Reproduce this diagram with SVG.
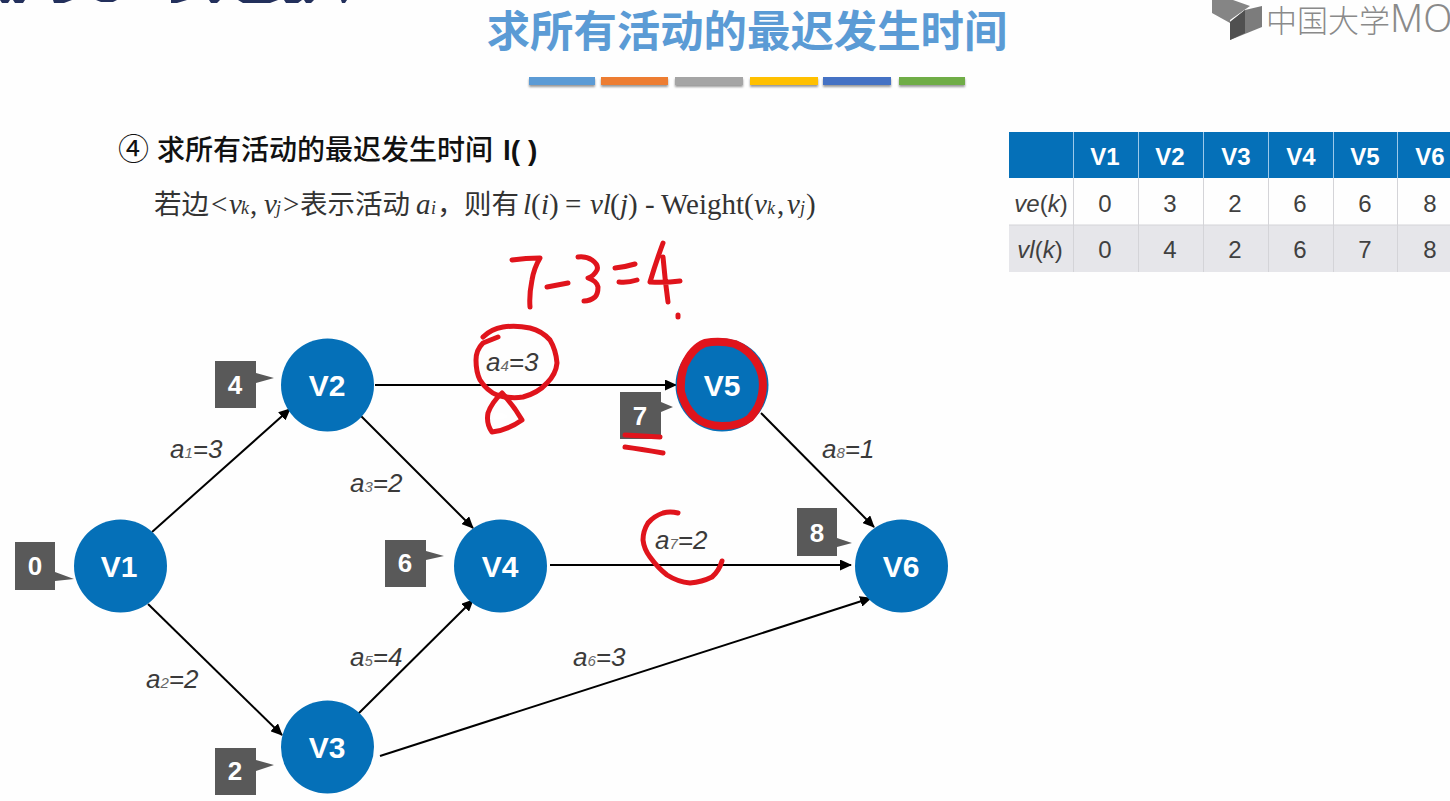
<svg xmlns="http://www.w3.org/2000/svg" width="1450" height="801" viewBox="0 0 1450 801">
<defs>
<marker id="ah" markerWidth="12" markerHeight="11" refX="11" refY="5.500" orient="auto" markerUnits="userSpaceOnUse"><path d="M0 0L12 5.500L0 11Z" fill="#000"/></marker>
<filter id="sh" x="-5%" y="-50%" width="110%" height="250%"><feDropShadow dx="0" dy="2" stdDeviation="1.2" flood-color="#000" flood-opacity=".4"/></filter>
</defs>
<style>
text{font-family:"Liberation Sans","Noto Sans CJK SC",sans-serif}
.c{fill:#0570b8}
.n{fill:#fff;font-size:30px;font-weight:700;text-anchor:middle}
.tag{fill:#595959}
.t{fill:#fff;font-size:26px;font-weight:700;text-anchor:middle}
.e{stroke:#000;stroke-width:2;fill:none;marker-end:url(#ah)}
.l{font-size:26px;font-style:italic;fill:#3a3a3a}
.l tspan{font-size:15px;fill:#666}
.ink{fill:none;stroke:#e0141c;stroke-width:5;stroke-linecap:round;stroke-linejoin:round}
.h{fill:#0570b8}
.hd{fill:#fff;font-size:24px;font-weight:700;text-anchor:middle}
.d{fill:#404040;font-size:24px;text-anchor:middle}
.ti{font-size:24px;fill:#404040;text-anchor:middle}
.ti tspan{font-style:italic}
.sep{stroke:#9cc9ea;stroke-width:1}
.sep2{stroke:#d4d4d8;stroke-width:1}
.f{font-family:"Liberation Serif",serif;font-size:29px;fill:#333}
.f .i{font-style:italic}
.f .s{font-size:18px;font-style:italic}
.f .z{font-family:"Noto Sans CJK SC",sans-serif;font-size:27.500px;font-style:normal}
.top{fill:#23305c}
</style>
<rect width="1450" height="801" fill="#fefefe"/>
<g id="title">
<text x="747" y="47" font-size="43.400" fill="#5b9bd5" text-anchor="middle" style="font-family:'Noto Sans CJK SC',sans-serif;font-weight:700">求所有活动的最迟发生时间</text>
<g filter="url(#sh)">
<rect x="529" y="77" width="66" height="8" fill="#5b9bd5"/>
<rect x="601" y="77" width="67" height="8" fill="#ed7d31"/>
<rect x="675" y="77" width="68" height="8" fill="#a5a5a5"/>
<rect x="750" y="77" width="68" height="8" fill="#ffc000"/>
<rect x="823" y="77" width="68" height="8" fill="#4472c4"/>
<rect x="899" y="77" width="66" height="8" fill="#70ad47"/>
</g>
</g>
<g id="top-scribble">
<path class="top" d="M0 0h10l-2 3h-6ZM13 0h12l-2 3h-8ZM53 0h19l-8 3h-10ZM96 0h21l-4 2h-12ZM171 0h16l-10 3h-6ZM209 0h11l-3 3h-6ZM238 0h40l-8 3h-27ZM284 0h18l-4 3h-12ZM304 0h10l-3 3h-5ZM341 0h6l-2 3h-3Z"/>
</g>
<g id="logo">
<path d="M1212 0H1233L1250 6L1230 20V23L1212 13Z" fill="#858585"/>
<path d="M1230 22L1245 10L1262 6V27L1230 40Z" fill="#7c7c7c"/>
<path d="M1230 22L1245 10V33L1230 40Z" fill="#505050"/>
<text x="1266" y="32" font-size="31" fill="#8a8a8a" style="font-family:'Noto Sans CJK SC',sans-serif;font-weight:300">中国大学<tspan font-size="38" style="font-family:'Noto Sans',sans-serif;font-weight:300">MOOC</tspan></text>
</g>
<g id="heading">
<text x="118" y="160" font-size="31" fill="#111" style="font-family:'Noto Sans CJK SC',sans-serif">④</text>
<text x="157" y="160" font-size="28" fill="#111" style="font-family:'Noto Sans CJK SC',sans-serif;font-weight:500">求所有活动的最迟发生时间</text>
<text x="503" y="160" font-size="28" font-weight="700" fill="#111">l( )</text>
<text class="f" y="214"><tspan class="z" x="154">若边</tspan><tspan x="211">&lt;</tspan><tspan class="i" x="229">v</tspan><tspan class="s" x="241">k</tspan><tspan x="250">,</tspan><tspan class="i" x="264">v</tspan><tspan class="s" x="276">j</tspan><tspan x="283">&gt;</tspan><tspan class="z" x="300">表示活动</tspan><tspan class="i" x="416">a</tspan><tspan class="s" x="431">i</tspan><tspan class="z" x="437">，</tspan><tspan class="z" x="464">则有</tspan><tspan class="i" x="523">l</tspan><tspan x="531">(</tspan><tspan class="i" x="541">i</tspan><tspan x="549">)</tspan><tspan x="565">=</tspan><tspan class="i" x="590">vl</tspan><tspan x="610">(</tspan><tspan class="i" x="620">j</tspan><tspan x="628">)</tspan><tspan x="645">-</tspan><tspan x="661">Weight(</tspan><tspan class="i" x="754">v</tspan><tspan class="s" x="767">k</tspan><tspan x="777">,</tspan><tspan class="i" x="787">v</tspan><tspan class="s" x="800">j</tspan><tspan x="806">)</tspan></text>
</g>
<g id="table">
<rect x="1009" y="132" width="441" height="46" class="h"/>
<rect x="1009" y="225" width="441" height="47" fill="#e6e6ea"/>
<path class="sep" d="M1073.500 132V178M1138.500 132V178M1203.500 132V178M1268.500 132V178M1333.500 132V178M1397.500 132V178"/>
<path class="sep2" d="M1073.500 178V272M1138.500 178V272M1203.500 178V272M1268.500 178V272M1333.500 178V272M1397.500 178V272M1009 225h441"/>
<text class="hd" x="1105" y="165">V1</text><text class="hd" x="1170" y="165">V2</text><text class="hd" x="1236" y="165">V3</text><text class="hd" x="1301" y="165">V4</text><text class="hd" x="1365" y="165">V5</text><text class="hd" x="1430" y="165">V6</text>
<text class="ti" x="1041" y="212"><tspan>ve</tspan>(<tspan>k</tspan>)</text>
<text class="d" x="1105" y="212">0</text><text class="d" x="1170" y="212">3</text><text class="d" x="1235" y="212">2</text><text class="d" x="1300" y="212">6</text><text class="d" x="1365" y="212">6</text><text class="d" x="1430" y="212">8</text>
<text class="ti" x="1040" y="258"><tspan>vl</tspan>(<tspan>k</tspan>)</text>
<text class="d" x="1105" y="258">0</text><text class="d" x="1170" y="258">4</text><text class="d" x="1235" y="258">2</text><text class="d" x="1300" y="258">6</text><text class="d" x="1365" y="258">7</text><text class="d" x="1430" y="258">8</text>
</g>
<g id="connectors">
<line class="e" x1="152" y1="532" x2="290" y2="409"/>
<line class="e" x1="148" y1="604" x2="282" y2="735"/>
<line class="e" x1="361" y1="416" x2="473" y2="528"/>
<line class="e" x1="375" y1="385" x2="676" y2="385"/>
<line class="e" x1="358" y1="714" x2="473" y2="600"/>
<line class="e" x1="380" y1="756" x2="871" y2="598"/>
<line class="e" x1="550" y1="565" x2="851" y2="565"/>
<line class="e" x1="761" y1="413" x2="874" y2="527"/>
</g>
<g id="edge-labels">
<text class="l" x="170" y="458">a<tspan>1</tspan>=3</text>
<text class="l" x="146" y="688">a<tspan>2</tspan>=2</text>
<text class="l" x="350" y="492">a<tspan>3</tspan>=2</text>
<text class="l" x="486" y="371">a<tspan>4</tspan>=3</text>
<text class="l" x="350" y="666">a<tspan>5</tspan>=4</text>
<text class="l" x="573" y="666">a<tspan>6</tspan>=3</text>
<text class="l" x="655" y="549">a<tspan>7</tspan>=2</text>
<text class="l" x="822" y="458">a<tspan>8</tspan>=1</text>
</g>
<g id="v1"><circle class="c" cx="120.500" cy="566" r="46.500"/><text class="n" x="119" y="577">V1</text>
<path class="tag" d="M15 542h40v30l19 7l-19 2v9h-40Z"/><text class="t" x="35" y="575">0</text></g>
<g id="v2"><circle class="c" cx="327.500" cy="385" r="46.500"/><text class="n" x="327" y="396">V2</text>
<path class="tag" d="M215 361h41v12l18 5l-18 5v25h-41Z"/><text class="t" x="235" y="394">4</text></g>
<g id="v3"><circle class="c" cx="327.500" cy="747" r="46.500"/><text class="n" x="327" y="758">V3</text>
<path class="tag" d="M215 748h41v12l18 5l-18 6v24h-41Z"/><text class="t" x="235" y="780">2</text></g>
<g id="v4"><circle class="c" cx="500.500" cy="566" r="46.500"/><text class="n" x="500" y="577">V4</text>
<path class="tag" d="M385 540h41v11l18 5l-18 4v27h-41Z"/><text class="t" x="405" y="572">6</text></g>
<g id="v5"><circle class="c" cx="722" cy="385" r="46.500"/><text class="n" x="722" y="396">V5</text>
<path class="tag" d="M620 392h41v10l12 5l-12 5v27h-41Z"/><text class="t" x="640" y="425">7</text></g>
<g id="v6"><circle class="c" cx="901.500" cy="566" r="46.500"/><text class="n" x="901" y="577">V6</text>
<path class="tag" d="M797 508h40v30l15 5l-15 4v9h-40Z"/><text class="t" x="817" y="542">8</text></g>
<g id="ink">
<path class="ink" d="M512 260Q526 258 540 258Q534 268 532 280Q529 295 530 307M547 287L568 283M578 257Q586 256 592 260Q599 265 597 270Q594 276 588 278Q597 281 598 287Q598 294 595 297Q590 301 584 301M615 268Q625 267 635 264M619 282Q628 283 637 280M663 243Q656 262 650 282Q665 283 680 281M663 257Q665 280 668 302M678 315v2"/>
<path class="ink" d="M498 337L483 343Q476 350 476 360Q476 372 480 380Q487 391 497 395Q510 399 523 397Q538 393 547 383Q556 374 557 363Q556 350 550 340Q542 331 530 328Q516 325 503 327Q491 329 483 337"/>
<path class="ink" d="M502 393Q492 402 488 413Q486 424 492 432Q508 430 522 420Q514 406 502 393Z" fill="#e0141c" stroke-width="5"/>
<path d="M493 414Q503 411 508 417Q500 421 493 418Z" fill="#fff"/>
<path class="ink" stroke-width="8" style="stroke-width:8" d="M684 366Q680 378 681 392Q685 408 695 417Q706 426 722 426Q740 426 750 418Q760 407 762 394Q765 378 758 365Q750 350 735 344Q720 340 705 343Q692 348 684 366Z"/>
<path class="ink" d="M625 435L660 437M625 447Q640 449 663 453"/>
<path class="ink" d="M678 513Q670 511 663 513Q654 516 648 523Q643 531 643 540Q644 549 650 557Q658 568 667 575Q678 582 690 583Q702 582 712 577Q719 571 722 561"/>
</g>
</svg>
